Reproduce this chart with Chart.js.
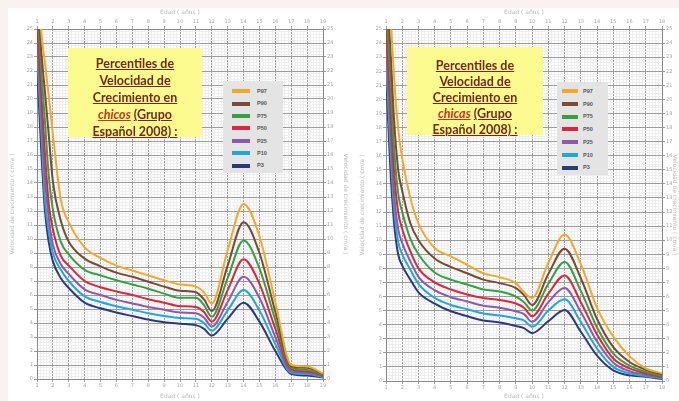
<!DOCTYPE html>
<html>
<head>
<meta charset="utf-8">
<script src="https://cdn.jsdelivr.net/npm/chart.js@4.4.1/dist/chart.umd.min.js"></script>
<style>
  body { margin: 0; width: 679px; height: 401px; background: #fcf1f1; position: relative; overflow: hidden; }
  #panel { position: absolute; left: 8px; top: 8px; right: 0; bottom: 0; background: #fff; }
  canvas { position: absolute; top: 0; }
  .titlebox { position: absolute; background: #fbfb8f; color: #6f2a1c; font: bold 12.5px Lato, sans-serif; text-align: center; box-sizing: border-box; white-space: nowrap; }
  .titlebox u { text-decoration-thickness: 1px; text-underline-offset: 1px; }
  .titlebox .sex { color: #c8331f; font-style: italic; }
  .legendbox { position: absolute; background: #e4e4e4; box-sizing: border-box; font: bold 5.5px "Liberation Sans", sans-serif; color: #555; }
  .legendbox .item { display: flex; align-items: center; }
  .legendbox .sw { display: inline-block; height: 4px; }
</style>
</head>
<body>
<div id="panel"></div>
<canvas id="boysChart" width="350" height="401" style="left:0"></canvas>
<canvas id="girlsChart" width="329" height="401" style="left:350px"></canvas>

<div class="titlebox" style="left:68px;top:48px;width:134px;height:89px;padding-top:7px;line-height:17px">
  <u>Percentiles de</u><br><u>Velocidad de</u><br><u>Crecimiento en</u><br><u class="sex">chicos</u> <u>(Grupo</u><br><u>Español 2008) :</u>
</div>
<div class="titlebox" style="left:407px;top:47px;width:136px;height:88px;padding-top:11px;line-height:16px">
  <u>Percentiles de</u><br><u>Velocidad de</u><br><u>Crecimiento en</u><br><u class="sex">chicas</u> <u>(Grupo</u><br><u>Español 2008) :</u>
</div>
<div class="legendbox" id="boysLegend" style="left:223px;top:81px;width:60px;height:92px;padding:4px 0 0 9px;line-height:12.4px"></div>
<div class="legendbox" id="girlsLegend" style="left:557px;top:82px;width:51px;height:93px;padding:3px 0 0 5px;line-height:12.7px"></div>

<script>
// edades (años)
const boysAges  = [1, 1.25, 1.5, 1.75, 2, 2.5, 3, 4, 5, 6, 7, 8, 9, 10, 11, 11.5, 12, 13, 14, 15, 16, 17, 18, 19];
const girlsAges = [1, 1.25, 1.5, 1.75, 2, 2.5, 3, 4, 5, 6, 7, 8, 9, 9.5, 10, 11, 12, 13, 14, 15, 16, 17, 18];

// chicos - velocidad (cm/a)
const boysP97 = [30, 25, 22.6, 20.1, 17.5, 12.8, 11.2, 9.4, 8.65, 8.1, 7.75, 7.4, 7.05, 6.75, 6.6, 6.2, 5.4, 9.2, 12.5, 10.2, 5.5, 1.0, 0.9, 0.4];
const boysP90 = [28.5, 23.7, 20.5, 17.3, 14.1, 11.3, 9.8, 8.6, 8.05, 7.6, 7.3, 6.95, 6.6, 6.3, 6.2, 5.7, 4.85, 8.1, 11.2, 9.0, 4.8, 0.9, 0.8, 0.35];
const boysP75 = [27, 22.3, 18.4, 14.4, 12.1, 9.8, 8.9, 7.8, 7.4, 7.05, 6.75, 6.45, 6.1, 5.8, 5.8, 5.3, 4.45, 7.2, 9.9, 7.9, 4.2, 0.8, 0.65, 0.3];
const boysP50 = [25.5, 20.8, 16.1, 12.4, 10.7, 8.8, 8.1, 7.0, 6.55, 6.25, 6.0, 5.7, 5.45, 5.2, 5.15, 4.8, 4.1, 6.35, 8.55, 6.8, 3.6, 0.7, 0.55, 0.25];
const boysP25 = [24.5, 19.5, 14.4, 11.4, 9.6, 8.2, 7.5, 6.4, 6.0, 5.65, 5.4, 5.15, 4.95, 4.75, 4.7, 4.4, 3.75, 5.5, 7.3, 5.8, 3.0, 0.55, 0.45, 0.2];
const boysP10 = [23.5, 18.2, 12.8, 10.5, 9.0, 7.8, 7.0, 5.9, 5.5, 5.2, 4.95, 4.7, 4.5, 4.35, 4.3, 4.0, 3.45, 4.9, 6.35, 4.9, 2.5, 0.45, 0.35, 0.15];
const boysP3  = [22.5, 16.7, 12.0, 9.7, 8.4, 7.2, 6.5, 5.45, 5.05, 4.75, 4.5, 4.25, 4.05, 3.95, 3.85, 3.6, 3.1, 4.3, 5.45, 4.1, 2.0, 0.35, 0.25, 0.1];

// chicas - velocidad (cm/a)
const girlsP97 = [30, 26.5, 21.5, 17.9, 15.8, 13.0, 11.2, 9.45, 8.85, 8.25, 7.65, 7.37, 6.95, 6.3, 5.9, 8.4, 10.4, 8.3, 5.2, 3.15, 1.75, 0.9, 0.55];
const girlsP90 = [28.5, 24, 18.5, 15.0, 13.5, 11.2, 10.0, 8.7, 8.1, 7.65, 7.2, 6.95, 6.6, 6.1, 5.4, 7.6, 9.4, 7.3, 4.4, 2.4, 1.35, 0.8, 0.45];
const girlsP75 = [27, 22, 16.5, 13.3, 12.0, 10.1, 9.0, 7.7, 7.2, 6.85, 6.5, 6.35, 6.0, 5.6, 5.0, 6.9, 8.45, 6.4, 3.8, 1.95, 1.1, 0.65, 0.35];
const girlsP50 = [25.5, 20, 14.8, 12.0, 10.8, 9.2, 8.0, 7.0, 6.5, 6.15, 5.9, 5.75, 5.5, 5.2, 4.6, 6.2, 7.5, 5.6, 3.3, 1.6, 0.9, 0.55, 0.3];
const girlsP25 = [24, 18.5, 13.3, 10.8, 9.8, 8.5, 7.4, 6.45, 5.95, 5.65, 5.35, 5.2, 4.95, 4.75, 4.2, 5.6, 6.6, 4.9, 2.8, 1.3, 0.7, 0.45, 0.25];
const girlsP10 = [23, 17, 12.2, 9.9, 9.0, 7.9, 6.9, 5.9, 5.4, 5.1, 4.8, 4.65, 4.45, 4.3, 3.85, 5.0, 5.8, 4.2, 2.3, 1.0, 0.55, 0.35, 0.2];
const girlsP3  = [22, 15.5, 11.2, 9.0, 8.2, 7.2, 6.3, 5.5, 4.95, 4.6, 4.3, 4.15, 3.9, 3.75, 3.4, 4.25, 5.05, 3.5, 1.8, 0.75, 0.4, 0.3, 0.15];

const legendLabels = ['P97', 'P90', 'P75', 'P50', 'P25', 'P10', 'P3'];
const lineColors = ['#efaa2e', '#7a4a33', '#34a043', '#d8283c', '#8c5aa6', '#22a8d8', '#2b3b78'];

const MAJOR = '#9c9c9c';
const MINOR = '#eeeeee';

function isMajor(v) {
    return Math.abs(v - Math.round(v)) < 1e-6;
}

function axis(pos, min, max, size, title, withGrid) {
    const horizontal = pos === 'top' || pos === 'bottom';
    return {
        type: 'linear',
        position: pos,
        min: min,
        max: max,
        afterFit: (s) => {
            if (horizontal) s.height = size; else s.width = size;
        },
        ticks: {
            stepSize: 0.2,
            autoSkip: false,
            maxRotation: 0,
            minRotation: 0,
            padding: 1,
            color: '#a4a4a4',
            font: { size: 5, family: 'DejaVu Sans' },
            callback: (v) => isMajor(v) ? Math.round(v) : ''
        },
        grid: {
            drawOnChartArea: withGrid,
            color: (c) => isMajor(c.tick.value) ? MAJOR : MINOR,
            tickColor: (c) => isMajor(c.tick.value) ? MAJOR : 'transparent',
            tickLength: 3
        },
        border: { color: '#8a8a8a', width: 1 },
        title: {
            display: true,
            text: title,
            color: '#b8b8b8',
            font: { size: 6, family: 'DejaVu Sans' },
            padding: 1
        }
    };
}

function makeChart(id, ages, series, xMax, pad, sizes) {
    const ctx = document.getElementById(id);
    return new Chart(ctx, {
        type: 'line',
        data: {
            datasets: series.map((s, i) => ({
                label: legendLabels[i],
                data: ages.map((a, j) => ({ x: a, y: s[j] })),
                borderColor: lineColors[i],
                borderWidth: 2,
                pointRadius: 0,
                cubicInterpolationMode: 'monotone',
                fill: false,
                xAxisID: 'x',
                yAxisID: 'y'
            }))
        },
        options: {
            responsive: false,
            animation: false,
            layout: { padding: pad },
            plugins: {
                legend: { display: false },
                tooltip: { enabled: false }
            },
            scales: {
                x: axis('bottom', 1, xMax, sizes.bottom, 'Edad ( años )', true),
                x2: axis('top', 1, xMax, sizes.top, 'Edad ( años )', false),
                y: axis('left', 0, 25, sizes.left, 'Velocidad de crecimiento ( cm/a )', true),
                y2: axis('right', 0, 25, sizes.right, 'Velocidad de crecimiento ( cm/a )', false)
            }
        }
    });
}

function fillLegend(id, swatchW, gap) {
    const box = document.getElementById(id);
    box.innerHTML = legendLabels.map((l, i) =>
        `<div class="item"><span class="sw" style="width:${swatchW}px;margin-right:${gap}px;background:${lineColors[i]}"></span>${l}</div>`
    ).join('');
}

makeChart('boysChart',
    boysAges,
    [boysP97, boysP90, boysP75, boysP50, boysP25, boysP10, boysP3],
    19,
    { left: 8, top: 8, right: 0, bottom: 0 },
    { top: 21, bottom: 22, left: 29, right: 27 });

makeChart('girlsChart',
    girlsAges,
    [girlsP97, girlsP90, girlsP75, girlsP50, girlsP25, girlsP10, girlsP3],
    18,
    { left: 8, top: 8, right: 0, bottom: 0 },
    { top: 21, bottom: 20, left: 28, right: 17 });

fillLegend('boysLegend', 18, 7);
fillLegend('girlsLegend', 16, 5);
</script>
</body>
</html>
